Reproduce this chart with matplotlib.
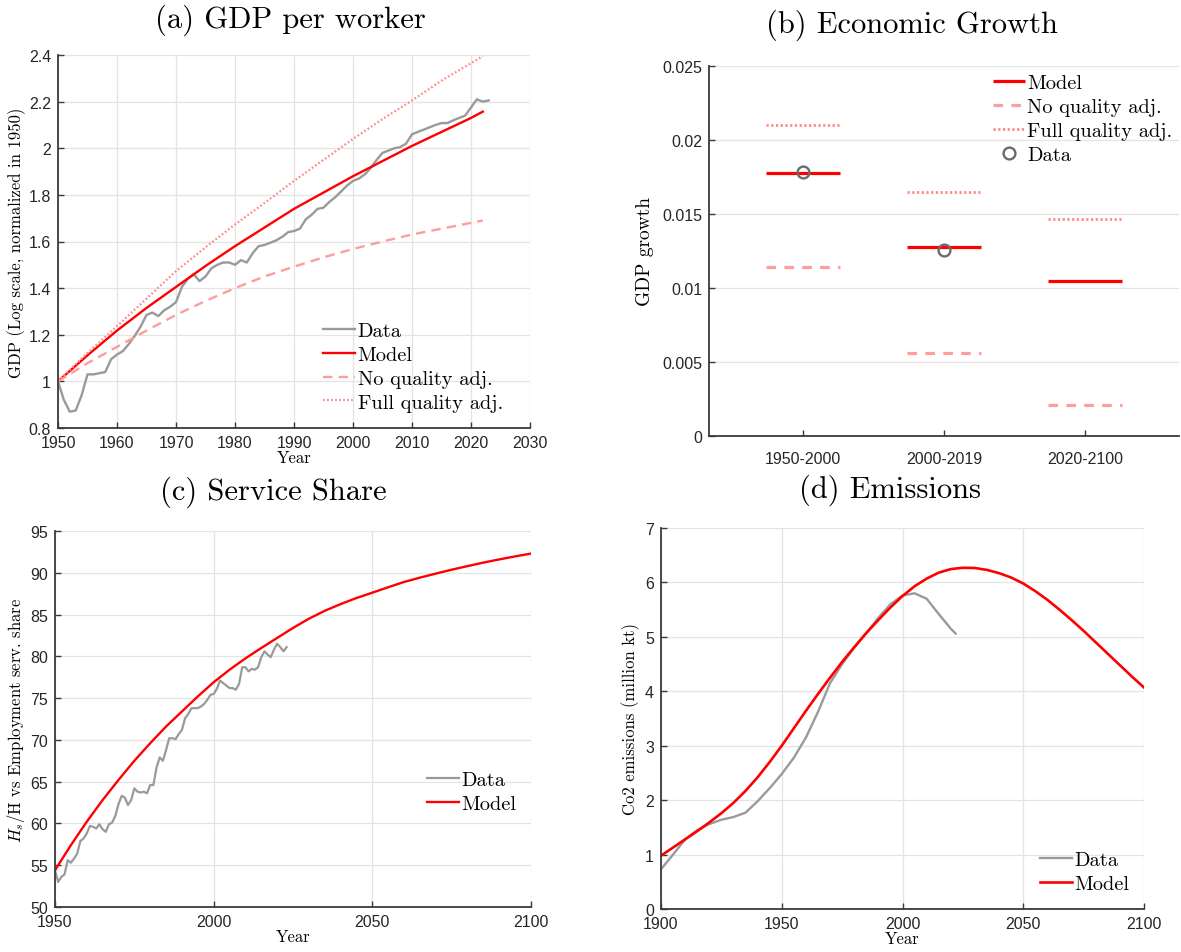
import matplotlib
matplotlib.use("Agg")
import matplotlib.pyplot as plt
from matplotlib.ticker import FuncFormatter

plt.rcParams['mathtext.fontset'] = 'cm'
plt.rcParams['axes.unicode_minus'] = False

# ---- (a) GDP per worker ----
gdp_years = list(range(1950, 2024))
gdp_data = [1.0, 0.92, 0.87, 0.875, 0.94, 1.03, 1.03, 1.035, 1.04, 1.095,
            1.115, 1.13, 1.16, 1.195, 1.235, 1.285, 1.295, 1.28, 1.305, 1.32,
            1.34, 1.405, 1.44, 1.46, 1.43, 1.45, 1.485, 1.50, 1.51, 1.51,
            1.50, 1.52, 1.51, 1.55, 1.58, 1.585, 1.595, 1.605, 1.62, 1.64,
            1.645, 1.655, 1.695, 1.715, 1.74, 1.745, 1.77, 1.79, 1.815, 1.84,
            1.86, 1.87, 1.888, 1.915, 1.95, 1.98, 1.99, 2.0, 2.005, 2.02,
            2.06, 2.07, 2.08, 2.09, 2.10, 2.108, 2.108, 2.12, 2.13, 2.14,
            2.175, 2.21, 2.20, 2.205]
gdp_model_years = [1950, 1955, 1960, 1965, 1970, 1975, 1980, 1985, 1990, 1995,
                   2000, 2005, 2010, 2015, 2020, 2022]
gdp_model = [1.0, 1.112, 1.218, 1.315, 1.405, 1.495, 1.58, 1.66, 1.74, 1.81,
             1.88, 1.945, 2.01, 2.07, 2.13, 2.157]
gdp_noq = [1.0, 1.078, 1.148, 1.218, 1.285, 1.345, 1.40, 1.45, 1.492, 1.532,
           1.568, 1.60, 1.63, 1.655, 1.68, 1.69]
gdp_full = [1.0, 1.122, 1.237, 1.355, 1.473, 1.575, 1.673, 1.765, 1.86, 1.95,
            2.04, 2.125, 2.205, 2.29, 2.365, 2.395]

# ---- (b) Economic Growth ----
periods = ['1950-2000', '2000-2019', '2020-2100']
growth_model = [0.0178, 0.0128, 0.01045]
growth_noq = [0.0114, 0.0056, 0.0021]
growth_full = [0.0210, 0.01646, 0.01466]
growth_data = [0.01783, 0.01259]

# ---- (c) Service Share ----
serv_years = list(range(1950, 2024))
serv_data = [54.4, 53.0, 53.6, 53.9, 55.6, 55.3, 55.8, 56.4, 57.9, 58.2,
             58.8, 59.7, 59.6, 59.4, 59.9, 59.3, 59.0, 59.9, 60.1, 60.9,
             62.3, 63.3, 63.1, 62.2, 62.8, 64.2, 63.8, 63.7, 63.8, 63.6,
             64.6, 64.6, 66.7, 67.9, 67.5, 68.8, 70.2, 70.2, 70.1, 70.7,
             71.2, 72.6, 73.1, 73.8, 73.8, 73.8, 74.0, 74.3, 74.8, 75.4,
             75.5, 76.1, 77.1, 76.8, 76.5, 76.2, 76.2, 76.0, 76.7, 78.7,
             78.7, 78.2, 78.5, 78.4, 78.7, 79.9, 80.6, 80.2, 79.9, 80.8,
             81.5, 81.1, 80.6, 81.1]
serv_model_years = list(range(1950, 2101, 5))
serv_model = [54.4, 57.4, 60.2, 62.8, 65.2, 67.5, 69.6, 71.6, 73.4, 75.2,
              76.9, 78.4, 79.75, 81.0, 82.2, 83.4, 84.5, 85.45, 86.25, 86.98,
              87.62, 88.27, 88.9, 89.42, 89.9, 90.37, 90.8, 91.22, 91.6, 91.96,
              92.3]

# ---- (d) Emissions ----
em_years = [1900, 1905, 1910, 1915, 1920, 1925, 1930, 1935, 1940, 1945,
            1950, 1955, 1960, 1965, 1970, 1975, 1980, 1985, 1990, 1995,
            2000, 2005, 2010, 2015, 2020, 2022]
em_data = [0.73, 1.0, 1.28, 1.45, 1.56, 1.64, 1.69, 1.77, 1.98, 2.22,
           2.48, 2.78, 3.15, 3.62, 4.15, 4.5, 4.8, 5.07, 5.35, 5.6,
           5.76, 5.8, 5.7, 5.42, 5.15, 5.06]
em_model_years = list(range(1900, 2101, 5))
em_model = [0.98, 1.13, 1.28, 1.43, 1.59, 1.76, 1.95, 2.17, 2.42, 2.70,
            3.0, 3.32, 3.64, 3.95, 4.25, 4.54, 4.81, 5.07, 5.31, 5.54,
            5.75, 5.93, 6.07, 6.18, 6.245, 6.27, 6.265, 6.23, 6.17, 6.09,
            5.98, 5.84, 5.68, 5.5, 5.31, 5.11, 4.9, 4.69, 4.48, 4.27, 4.07]

W, H = 1181, 953
fig = plt.figure(figsize=(W / 100, H / 100), dpi=100)

SERIF = 'cmr10'
TICKF = 'Liberation Sans'
AX_COL = '#3a3a3a'
GRAY = '#9a9a9a'
RED = '#ff0000'
PINK = '#ff9c9c'
PINK2 = '#ff8a8a'
TITLE_FS = 22
LAB_FS = 12
LEG_FS = 14.7


def make_ax(l, r, t, b):
    return fig.add_axes([l / W, 1 - b / H, (r - l) / W, (b - t) / H])


def style(ax, xgrid=True):
    for s in ['top', 'right']:
        ax.spines[s].set_visible(False)
    for s in ['left', 'bottom']:
        ax.spines[s].set_color(AX_COL)
        ax.spines[s].set_linewidth(1.3)
    ax.tick_params(direction='in', length=4, width=1.0, color=AX_COL,
                   labelcolor='#262626', labelsize=11.5)
    ax.tick_params(axis='y', pad=5)
    ax.tick_params(axis='x', pad=5)
    for lab in ax.get_xticklabels() + ax.get_yticklabels():
        lab.set_family(TICKF)
    ax.grid(True, axis='y', color='#e4e4e4', lw=0.9)
    if xgrid:
        ax.grid(True, axis='x', color='#e4e4e4', lw=0.9)
    ax.set_axisbelow(True)


def legend(ax, **kw):
    lg = ax.legend(frameon=False, prop={'family': SERIF, 'size': LEG_FS},
                   handlelength=1.55, handletextpad=0.12, labelspacing=0.27,
                   borderaxespad=0, **kw)
    return lg


# (a)
ax = make_ax(58, 530, 56, 429)
ax.plot(gdp_years, gdp_data, color=GRAY, lw=1.7, label='Data')
ax.plot(gdp_model_years, gdp_model, color=RED, lw=1.7, label='Model')
ax.plot(gdp_model_years, gdp_noq, color=PINK, lw=1.7, ls=(0, (4, 2.6)),
        label='No quality adj.')
ax.plot(gdp_model_years, gdp_full, color=PINK2, lw=1.6, ls=(0, (0.8, 1.0)),
        label='Full quality adj.')
ax.set_xlim(1950, 2030)
ax.set_ylim(0.8, 2.4)
ax.set_xticks(range(1950, 2031, 10))
ax.set_yticks([0.8, 1.0, 1.2, 1.4, 1.6, 1.8, 2.0, 2.2, 2.4])
ax.yaxis.set_major_formatter(FuncFormatter(lambda v, p: '%g' % round(v, 2)))
style(ax)
ax.set_xlabel('Year', family=SERIF, fontsize=LAB_FS, labelpad=0)
ax.set_ylabel('GDP (Log scale, normalized in 1950)', family=SERIF,
              fontsize=LAB_FS, labelpad=2)
legend(ax, loc='lower left', bbox_to_anchor=(0.545, 0.022))
fig.text(290 / W, 1 - 20 / H, '(a) GDP per worker', family=SERIF,
         fontsize=TITLE_FS, ha='center', va='center')

# (b)
ax = make_ax(709, 1179, 67, 437)
cats = [1, 2, 3]
hw = 0.265
ax.hlines(growth_model, [c - hw for c in cats], [c + hw for c in cats],
          color=RED, lw=2.3, label='Model')
ax.hlines(growth_noq, [c - hw for c in cats], [c + hw for c in cats],
          color=PINK, lw=2.3, linestyles=[(0, (3, 2.6))], label='No quality adj.')
ax.hlines(growth_full, [c - hw for c in cats], [c + hw for c in cats],
          color=PINK2, lw=2.0, linestyles=[(0, (0.8, 0.9))],
          label='Full quality adj.')
ax.plot(cats[:len(growth_data)], growth_data, 'o', mfc='none', mec='#6b6b6b',
        ms=8.5, mew=1.7, ls='none', label='Data')
ax.set_xlim(1 / 3, 11 / 3)
ax.set_ylim(0, 0.025)
ax.set_xticks(cats)
ax.set_xticklabels(periods)
ax.set_yticks([0, 0.005, 0.01, 0.015, 0.02, 0.025])
ax.yaxis.set_major_formatter(FuncFormatter(lambda v, p: '%g' % round(v, 4)))
style(ax, xgrid=False)
ax.tick_params(axis='x', pad=11)
ax.set_ylabel('GDP growth', family=SERIF, fontsize=14, labelpad=6)
legend(ax, loc='upper left', bbox_to_anchor=(0.587, 1.0))
fig.text(912 / W, 1 - 25 / H, '(b) Economic Growth', family=SERIF,
         fontsize=TITLE_FS, ha='center', va='center')

# (c)
ax = make_ax(55, 531, 532, 908)
ax.plot(serv_years, serv_data, color=GRAY, lw=1.6, label='Data')
ax.plot(serv_model_years, serv_model, color=RED, lw=1.7, label='Model')
ax.set_xlim(1950, 2100)
ax.set_ylim(50, 95)
ax.set_xticks([1950, 2000, 2050, 2100])
ax.set_yticks(range(50, 96, 5))
style(ax)
ax.set_xlabel('Year', family=SERIF, fontsize=LAB_FS, labelpad=0)
ax.set_ylabel(r'$H_s$/H vs Employment serv. share', family=SERIF,
              fontsize=LAB_FS, labelpad=2)
legend(ax, loc='center left', bbox_to_anchor=(0.765, 0.306))
fig.text(273 / W, 1 - 492 / H, '(c) Service Share', family=SERIF,
         fontsize=TITLE_FS, ha='center', va='center')

# (d)
ax = make_ax(661, 1144, 529, 910)
ax.plot(em_years, em_data, color=GRAY, lw=1.7, label='Data')
ax.plot(em_model_years, em_model, color=RED, lw=1.9, label='Model')
ax.set_xlim(1900, 2100)
ax.set_ylim(0, 7)
ax.set_xticks([1900, 1950, 2000, 2050, 2100])
ax.set_yticks(range(0, 8))
style(ax)
ax.set_xlabel('Year', family=SERIF, fontsize=LAB_FS, labelpad=0)
ax.set_ylabel('Co2 emissions (million kt)', family=SERIF, fontsize=LAB_FS,
              labelpad=4)
legend(ax, loc='lower left', bbox_to_anchor=(0.768, 0.02))
fig.text(890 / W, 1 - 490 / H, '(d) Emissions', family=SERIF,
         fontsize=TITLE_FS, ha='center', va='center')

fig.savefig('out.png', dpi=100)
